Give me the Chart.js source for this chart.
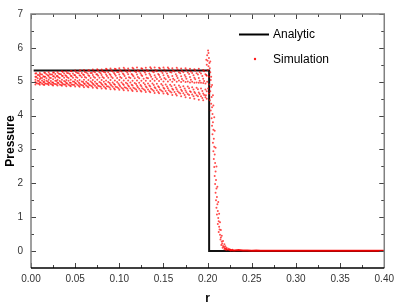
<!DOCTYPE html>
<html>
<head>
<meta charset="utf-8">
<script src="https://cdn.jsdelivr.net/npm/chart.js@4"></script>
<style>
  html, body { margin: 0; padding: 0; background: #fff; }
  canvas { display: block; }
</style>
</head>
<body>
<canvas id="myChart" width="399" height="304"></canvas>
<script>
// tick values
const xTicks = [0, 0.05, 0.10, 0.15, 0.20, 0.25, 0.30, 0.35, 0.40];
const xMinor = [0.025, 0.075, 0.125, 0.175, 0.225, 0.275, 0.325, 0.375];
const yTicks = [0, 1, 2, 3, 4, 5, 6, 7];
const yMinor = [0.5, 1.5, 2.5, 3.5, 4.5, 5.5, 6.5];

// analytic solution (step)
const analyticR = [0.003, 0.2017, 0.2017, 0.40];
const analyticP = [5.33, 5.33, 0, 0];

// simulation - band rows
const rA = [0.005,0.010,0.015,0.020,0.025,0.030,0.035,0.040,0.045,0.050,0.055,0.060,0.065,0.070,0.075,0.080,0.085,0.090,0.095,0.100,
            0.105,0.110,0.115,0.120,0.125,0.130,0.135,0.140,0.145,0.150,0.155,0.160,0.165,0.170,0.175,0.180,0.185,0.190,0.195];
const rB = [0.0075,0.0125,0.0175,0.0225,0.0275,0.0325,0.0375,0.0425,0.0475,0.0525,0.0575,0.0625,0.0675,0.0725,0.0775,0.0825,0.0875,0.0925,0.0975,0.1025,
            0.1075,0.1125,0.1175,0.1225,0.1275,0.1325,0.1375,0.1425,0.1475,0.1525,0.1575,0.1625,0.1675,0.1725,0.1775,0.1825,0.1875,0.1925,0.1975];
const rC = [0.006,0.011,0.016,0.021,0.026,0.031,0.036,0.041,0.046,0.051,0.056,0.061,0.066,0.071,0.076,0.081,0.086,0.091,0.096,0.101,
            0.106,0.111,0.116,0.121,0.126,0.131,0.136,0.141,0.146,0.151,0.156,0.161,0.166,0.171,0.176,0.181,0.186,0.191,0.196];
const rD = [0.009,0.014,0.019,0.024,0.029,0.034,0.039,0.044,0.049,0.054,0.059,0.064,0.069,0.074,0.079,0.084,0.089,0.094,0.099,0.104,
            0.109,0.114,0.119,0.124,0.129,0.134,0.139,0.144,0.149,0.154,0.159,0.164,0.169,0.174,0.179,0.184,0.189,0.194,0.199];

const row1 = [5.24,5.26,5.27,5.28,5.27,5.29,5.31,5.30,5.32,5.33,5.33,5.35,5.34,5.36,5.37,5.36,5.38,5.39,5.38,5.40,
              5.41,5.39,5.41,5.42,5.40,5.41,5.43,5.42,5.41,5.42,5.42,5.40,5.41,5.39,5.40,5.38,5.37,5.38,5.35];
const rowA = [5.25,5.22,5.26,5.23,5.27,5.24,5.29,5.26,5.31,5.28,5.33,5.29,5.33,5.30,5.34,5.31,5.36,5.33,5.37,5.34,
              5.37,5.33,5.38,5.34,5.38,5.35,5.39,5.35,5.39,5.36,5.38,5.33,5.36,5.32,5.35,5.30,5.33,5.29,5.31];
const row2 = [5.20,5.21,5.22,5.21,5.23,5.23,5.24,5.25,5.24,5.26,5.26,5.27,5.26,5.28,5.28,5.29,5.28,5.30,5.29,5.30,
              5.31,5.30,5.31,5.30,5.31,5.32,5.30,5.31,5.30,5.30,5.29,5.30,5.28,5.28,5.27,5.26,5.25,5.24,5.22];
const rowB = [5.20,5.16,5.19,5.21,5.17,5.22,5.19,5.23,5.20,5.25,5.21,5.24,5.26,5.22,5.25,5.27,5.23,5.26,5.28,5.24,
              5.27,5.23,5.28,5.25,5.27,5.24,5.28,5.23,5.26,5.24,5.27,5.22,5.25,5.20,5.23,5.19,5.21,5.17,5.18];
const row3 = [5.15,5.16,5.15,5.17,5.16,5.17,5.18,5.17,5.18,5.19,5.19,5.20,5.19,5.20,5.21,5.20,5.21,5.20,5.22,5.21,
              5.21,5.22,5.20,5.21,5.20,5.21,5.20,5.19,5.20,5.19,5.18,5.17,5.17,5.16,5.15,5.14,5.12,5.11,5.09];
const rowC = [5.14,5.11,5.15,5.12,5.16,5.13,5.17,5.13,5.16,5.14,5.18,5.14,5.17,5.15,5.18,5.14,5.17,5.15,5.18,5.14,
              5.17,5.13,5.16,5.14,5.17,5.12,5.15,5.13,5.14,5.11,5.13,5.09,5.11,5.08,5.09,5.06,5.07,5.03,5.02];
const row4 = [5.10,5.11,5.10,5.11,5.12,5.11,5.12,5.11,5.12,5.12,5.13,5.12,5.11,5.12,5.12,5.11,5.12,5.11,5.11,5.11,
              5.10,5.11,5.10,5.10,5.09,5.10,5.08,5.08,5.07,5.07,5.06,5.05,5.04,5.03,5.01,5.00,4.98,4.97,4.95];
const row5 = [5.06,5.07,5.06,5.06,5.07,5.06,5.06,5.05,5.06,5.06,5.05,5.06,5.05,5.05,5.06,5.05,5.04,5.05,5.04,5.05,
              5.04,5.04,5.03,5.04,5.03,5.03,5.02,5.03,5.02,5.01,5.01,5.00,5.00,4.99,4.99,4.98,4.97,4.97,4.96];
const row6 = [5.03,5.04,5.03,5.02,5.03,5.02,5.02,5.03,5.01,5.02,5.01,5.00,5.01,5.00,4.99,5.00,4.99,4.98,4.99,4.98,
              4.97,4.98,4.96,4.97,4.96,4.95,4.95,4.94,4.93,4.92,4.91,4.90,4.89,4.87,4.86,4.84,4.82,4.80,4.77];
const rowD = [5.02,4.99,5.01,4.98,5.02,4.99,5.00,4.97,5.00,4.98,4.99,4.96,4.98,4.95,4.97,4.94,4.96,4.93,4.95,4.93,
              4.94,4.91,4.93,4.90,4.92,4.89,4.90,4.87,4.89,4.86,4.87,4.83,4.84,4.80,4.81,4.77,4.78,4.73,4.72];
const row7 = [4.99,4.98,4.99,4.97,4.98,4.97,4.97,4.96,4.97,4.96,4.95,4.95,4.94,4.94,4.93,4.93,4.92,4.92,4.91,4.90,
              4.90,4.89,4.89,4.88,4.87,4.86,4.86,4.84,4.84,4.82,4.81,4.79,4.78,4.76,4.74,4.72,4.70,4.68,4.65];
const rowE = [4.96,4.98,4.95,4.97,4.94,4.96,4.93,4.95,4.92,4.95,4.91,4.93,4.90,4.92,4.88,4.90,4.87,4.89,4.85,4.87,
              4.84,4.86,4.82,4.84,4.81,4.83,4.79,4.81,4.77,4.79,4.75,4.76,4.72,4.73,4.69,4.70,4.66,4.64,4.61];
const row8 = [4.95,4.94,4.94,4.93,4.93,4.92,4.92,4.91,4.91,4.91,4.90,4.89,4.89,4.88,4.87,4.86,4.86,4.85,4.84,4.82,
              4.82,4.81,4.80,4.79,4.78,4.77,4.76,4.75,4.74,4.73,4.71,4.70,4.68,4.66,4.64,4.62,4.60,4.57,4.54];
const rowF = [4.94,4.92,4.93,4.91,4.92,4.90,4.91,4.89,4.90,4.88,4.88,4.86,4.87,4.84,4.85,4.82,4.83,4.80,4.81,4.79,
              4.79,4.76,4.77,4.74,4.75,4.72,4.73,4.70,4.71,4.67,4.68,4.64,4.65,4.61,4.61,4.57,4.57,4.52,4.50];
const row9 = [4.92,4.91,4.90,4.90,4.89,4.89,4.88,4.87,4.87,4.86,4.85,4.84,4.84,4.82,4.81,4.80,4.79,4.78,4.77,4.76,
              4.75,4.74,4.73,4.72,4.71,4.70,4.69,4.67,4.66,4.65,4.63,4.61,4.59,4.57,4.54,4.52,4.50,4.47,4.45];

// simulation - spike and drop at the shock
const spikeR = [0.2005,0.2010,0.1995,0.2015,0.2000,0.2020,0.1990,0.2010,0.2025,0.2000,0.2030,0.1985,0.2015,0.2035,0.1995,
                0.2020,0.2040,0.2005,0.2030,0.2015,0.2045,0.2025,0.2040,0.2050,0.2035,0.2055,0.2045,0.2060,0.2050,0.2065,
                0.2055,0.2070,0.2060,0.2075,0.2065,0.2080,0.2070,0.2085,0.2075,0.2090,0.2080,0.2095,0.2085,0.2100,0.2090,
                0.2105,0.2095,0.2110,0.2100,0.2115,0.2105,0.2120,0.2125,0.2115,0.2130,0.2135,0.2125,0.2140,0.2150,0.2145,
                0.2160,0.2165,0.2155,0.2175,0.2185,0.2170,0.2195,0.2205,0.2190,0.2215,0.2230,0.2210,0.2245,0.2260];
const spikeP = [5.92,5.85,5.78,5.70,5.62,5.55,5.50,5.46,5.40,5.35,5.28,5.20,5.15,5.05,5.00,
                4.92,4.85,4.80,4.72,4.65,4.55,4.45,4.35,4.25,4.15,4.05,3.92,3.80,3.70,3.58,
                3.45,3.32,3.20,3.08,2.95,2.85,2.72,2.60,2.48,2.35,2.22,2.10,1.98,1.85,1.72,
                1.60,1.50,1.38,1.28,1.18,1.08,0.98,0.88,0.80,0.72,0.64,0.56,0.48,0.40,0.34,
                0.28,0.22,0.18,0.15,0.12,0.10,0.08,0.07,0.05,0.05,0.04,0.03,0.03,0.02];
const spike2R = [0.1985,0.2030,0.2040,0.2050,0.2060,0.1980,0.2065,0.2075,0.2080,0.2090,0.2100,0.2110,
                 0.2120,0.2130,0.2140,0.2150,0.2160,0.2175,0.2190,0.2200,0.2215,0.2235,0.2250,0.2280];
const spike2P = [5.65,5.60,5.15,4.90,4.60,4.60,4.30,3.95,3.55,3.05,2.50,1.90,
                 1.45,1.10,0.85,0.62,0.45,0.30,0.20,0.14,0.10,0.07,0.05,0.04];

// simulation - undisturbed region
const flatR = [0.225,0.230,0.235,0.240,0.245,0.250,0.255,0.260,0.265,0.270,0.275,0.280,0.285,0.290,0.295,0.300,0.305,0.310,
               0.315,0.320,0.325,0.330,0.335,0.340,0.345,0.350,0.355,0.360,0.365,0.370,0.375,0.380,0.385,0.390,0.395,0.400];
const flatP = [0.03,0.02,0.03,0.02,0.02,0.01,0.02,0.01,0.01,0.01,0.01,0.01,0.01,0.01,0.01,0.01,0.01,0.01,
               0.01,0.01,0.01,0.01,0.01,0.01,0.01,0.01,0.01,0.01,0.01,0.01,0.01,0.01,0.01,0.01,0.01,0.01];

function zip(r, p) { return r.map((v, i) => ({ x: v, y: p[i] })); }

const simData = [].concat(
  zip(rA, row1), zip(rC, rowA), zip(rB, row2), zip(rD, rowB), zip(rA, row3), zip(rC, rowC),
  zip(rB, row4), zip(rA, row5), zip(rB, row6), zip(rD, rowD), zip(rA, row7), zip(rC, rowE),
  zip(rB, row8), zip(rD, rowF), zip(rA, row9),
  zip(spikeR, spikeP), zip(spike2R, spike2P)
);

const FONT = '"Liberation Sans", Arial, sans-serif';
const RED = 'rgba(255,0,0,0.7)';

const frame = {
  id: 'frame',
  afterDatasetsDraw(chart) {
    const ctx = chart.ctx, a = chart.chartArea, x = chart.scales.x, y = chart.scales.y;
    ctx.save();
    ctx.lineWidth = 1;
    ctx.strokeStyle = '#444';
    ctx.beginPath();
    const vt = (v, len) => {
      const px = Math.round(x.getPixelForValue(v)) + 0.5;
      ctx.moveTo(px, a.bottom); ctx.lineTo(px, a.bottom - len);
      ctx.moveTo(px, a.top); ctx.lineTo(px, a.top + len);
    };
    const ht = (v, len) => {
      const py = Math.round(y.getPixelForValue(v)) + 0.5;
      ctx.moveTo(a.left, py); ctx.lineTo(a.left + len, py);
      ctx.moveTo(a.right, py); ctx.lineTo(a.right - len, py);
    };
    xTicks.forEach(v => vt(v, 5));
    xMinor.forEach(v => vt(v, 3));
    yTicks.forEach(v => ht(v, 5));
    yMinor.forEach(v => ht(v, 3));
    ctx.stroke();

    // axis box
    ctx.lineWidth = 1.5;
    ctx.strokeStyle = '#808080';
    ctx.beginPath();
    ctx.moveTo(a.left, a.bottom); ctx.lineTo(a.left, a.top); ctx.lineTo(a.right, a.top); ctx.lineTo(a.right, a.bottom);
    ctx.stroke();
    ctx.strokeStyle = '#000';
    ctx.beginPath();
    ctx.moveTo(a.left, a.bottom); ctx.lineTo(a.right, a.bottom);
    ctx.stroke();

    // legend
    ctx.lineWidth = 2;
    ctx.strokeStyle = '#000';
    ctx.beginPath();
    ctx.moveTo(239, 34.5); ctx.lineTo(269, 34.5);
    ctx.stroke();
    ctx.fillStyle = 'rgba(255,0,0,0.9)';
    ctx.beginPath();
    ctx.arc(255, 59, 1.2, 0, Math.PI * 2);
    ctx.fill();
    ctx.fillStyle = '#000';
    ctx.font = '12px ' + FONT;
    ctx.textBaseline = 'middle';
    ctx.fillText('Analytic', 273, 34.5);
    ctx.fillText('Simulation', 273, 59.5);
    ctx.restore();
  }
};

const ctx = document.getElementById('myChart').getContext('2d');
const myChart = new Chart(ctx, {
  type: 'scatter',
  data: {
    datasets: [{
      label: 'Simulation',
      data: simData,
      pointRadius: 1,
      pointBorderWidth: 0,
      backgroundColor: RED,
      showLine: false,
      order: 1
    }, {
      label: 'Simulation tail',
      data: zip(flatR, flatP),
      showLine: true,
      borderColor: 'rgba(255,0,0,0.9)',
      borderWidth: 2,
      pointRadius: 0,
      order: 1
    }, {
      label: 'Analytic',
      data: zip(analyticR, analyticP),
      showLine: true,
      borderColor: '#111',
      borderWidth: 2,
      pointRadius: 0,
      order: 2
    }]
  },
  options: {
    responsive: false,
    animation: false,
    events: [],
    layout: { padding: { top: 5, right: 11, left: 0, bottom: 0 } },
    plugins: { legend: { display: false }, tooltip: { enabled: false } },
    scales: {
      x: {
        type: 'linear',
        min: 0, max: 0.4,
        afterBuildTicks: s => { s.ticks = xTicks.map(v => ({ value: v })); },
        afterFit: s => { s.height = 36; },
        grid: { display: false, drawTicks: false },
        border: { display: false },
        ticks: { padding: 5, color: '#333', font: { family: FONT, size: 10 }, maxRotation: 0,
                 callback: v => Number(v).toFixed(2) },
        title: { display: true, text: 'r', color: '#000', padding: { top: 0, bottom: -2 },
                 font: { family: FONT, size: 12, weight: 'bold' } }
      },
      y: {
        type: 'linear',
        min: -0.5, max: 7,
        afterBuildTicks: s => { s.ticks = yTicks.map(v => ({ value: v })); },
        afterFit: s => { s.width = 31; },
        grid: { display: false, drawTicks: false },
        border: { display: false },
        ticks: { padding: 8, color: '#333', font: { family: FONT, size: 10 } },
        title: { display: true, text: 'Pressure', color: '#000', padding: { top: 3, bottom: 0 },
                 font: { family: FONT, size: 12, weight: 'bold' } }
      }
    }
  },
  plugins: [frame]
});
</script>
</body>
</html>
